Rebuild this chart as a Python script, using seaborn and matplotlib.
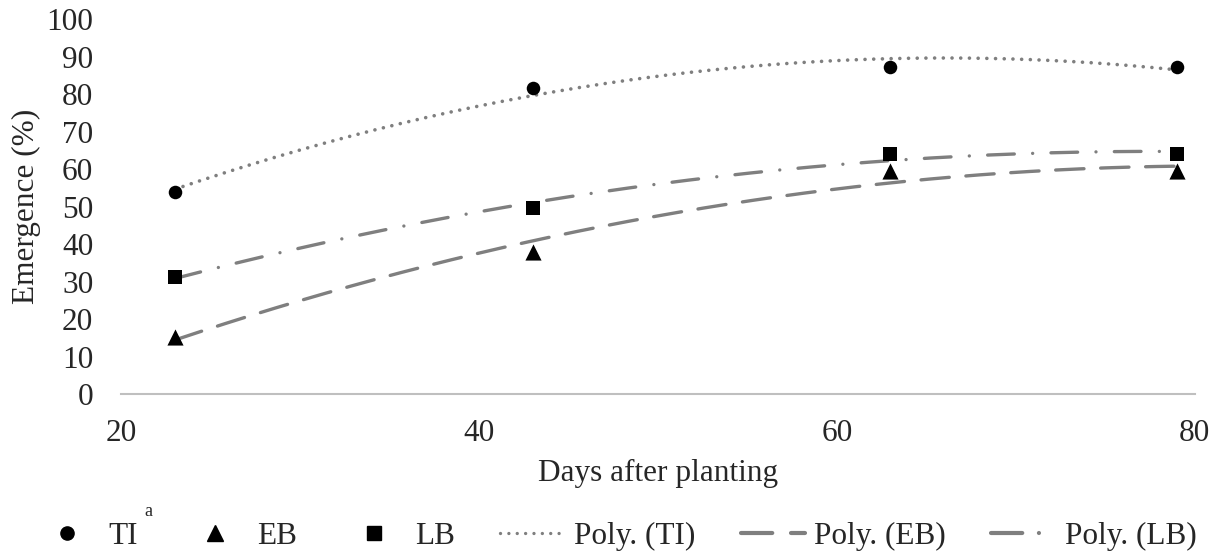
import numpy as np
import pandas as pd
import matplotlib
matplotlib.use("Agg")
import matplotlib.pyplot as plt
import seaborn as sns
from matplotlib.lines import Line2D

# data
days = [23, 43, 63, 79]
ti = [54, 81.5, 87.3, 87.3]
eb = [15.3, 38, 59.5, 59.5]
lb = [31.3, 49.5, 64, 64]

sns.set_style("white")
plt.rcParams['font.family'] = ['Liberation Serif', 'DejaVu Serif']
FS = 22.5

fig = plt.figure(figsize=(12.19, 5.53), dpi=100)
ax = fig.add_axes([0.0993, 0.2875, 0.8807, 0.678])

grey = "#7f7f7f"
xs = np.linspace(days[0], days[-1], 200)
styles = {"TI": (0, (0.01, 2.4)), "EB": (0, (8.5, 5)), "LB": (0, (8, 5.5, 0.01, 5.5))}
widths = {"TI": 2.6, "EB": 2.4, "LB": 2.4}
for name, vals in [("TI", ti), ("EB", eb), ("LB", lb)]:
    # order-2 polynomial trendline, like Excel's "Poly."
    coef = np.polyfit(days, vals, 2)
    trend = pd.DataFrame({"x": xs, "y": np.polyval(coef, xs)})
    sns.lineplot(data=trend, x="x", y="y", ax=ax, color=grey,
                 linewidth=widths[name], linestyle=styles[name],
                 dash_capstyle="round", solid_capstyle="round")

markers = {"TI": "o", "EB": "^", "LB": "s"}
sizes = {"TI": 95, "EB": 135, "LB": 102}
for name, vals in [("TI", ti), ("EB", eb), ("LB", lb)]:
    pts = pd.DataFrame({"x": days, "y": vals})
    sns.scatterplot(data=pts, x="x", y="y", ax=ax, color="black",
                    marker=markers[name], s=sizes[name], edgecolor="black",
                    linewidth=0, zorder=5)

ax.set_xlim(20, 80)
ax.set_ylim(0, 100)
ax.set_xticks([20, 40, 60, 80])
ax.set_yticks(range(0, 101, 10))
ax.tick_params(axis="both", labelsize=FS, length=0)
ax.tick_params(axis="y", pad=20)
ax.tick_params(axis="x", pad=18)
for s in ["top", "right", "left"]:
    ax.spines[s].set_visible(False)
ax.spines["bottom"].set_color("#bfbfbf")
ax.spines["bottom"].set_linewidth(1.5)
ax.set_xlabel("Days after planting", fontsize=FS, labelpad=8)
ax.set_ylabel("Emergence (%)", fontsize=FS, labelpad=4)

handles = [
    Line2D([], [], color="black", marker="o", linestyle="none", markersize=9.5),
    Line2D([], [], color="black", marker="^", linestyle="none", markersize=11),
    Line2D([], [], color="black", marker="s", linestyle="none", markersize=10),
    Line2D([], [], color=grey, linewidth=2.4, linestyle=(0, (0.01, 2.5)), dash_capstyle="round"),
    Line2D([], [], color=grey, linewidth=3, linestyle=(0, (7.5, 4.5)), dash_capstyle="round"),
    Line2D([], [], color=grey, linewidth=3, linestyle=(0, (7.5, 4, 0.01, 4)), dash_capstyle="round"),
]
labels = ["TI", "EB", "LB", "Poly. (TI)", "Poly. (EB)", "Poly. (LB)"]
fig.legend(handles, labels, loc="center", bbox_to_anchor=(0.505, 0.03),
           ncol=6, frameon=False, fontsize=FS, handlelength=2.05,
           handletextpad=0.3, columnspacing=1.45, borderpad=0)
fig.text(144 / 1219, 1 - 512 / 553, "a", fontsize=13, va="center")

fig.savefig("out.png", dpi=100)
